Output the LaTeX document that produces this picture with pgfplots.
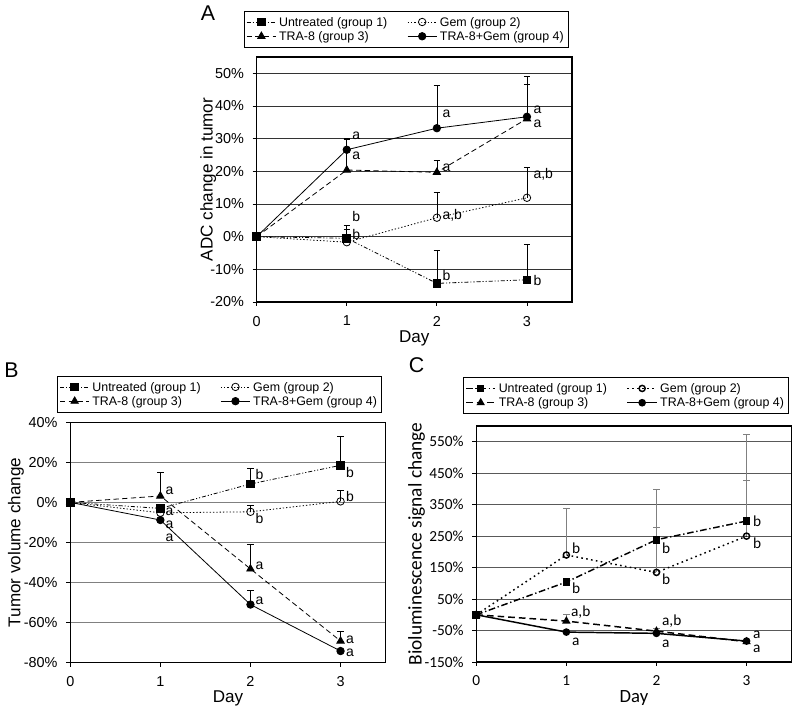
\documentclass[border=0pt]{standalone}
\usepackage{fontspec}
\setmainfont{Liberation Sans}
\newfontfamily\cfont{Carlito}
\usepackage{graphicx}
\usepackage{pgfplots}
\pgfplotsset{compat=1.18}

\newcommand\tickf{\fontsize{10.8}{12}\selectfont}
\newcommand\labf{\fontsize{12.8}{14}\selectfont}
\newcommand\legf{\fontsize{9.3}{11}\selectfont}
\newcommand\LU{\makebox[94pt][l]{\resizebox{81.2pt}{!}{\strut Untreated (group 1)}}}
\newcommand\LG{\resizebox{60.5pt}{!}{\strut Gem (group 2)}}
\newcommand\LT{\resizebox{67.2pt}{!}{\strut TRA-8 (group 3)}}
\newcommand\LTG{\resizebox{92.8pt}{!}{\strut TRA-8+Gem (group 4)}}
\tikzset{ann/.style={font=\fontsize{10.5}{12}\selectfont, anchor=west, inner sep=0pt},
         annc/.style={font=\cfont\fontsize{11.5}{12}\selectfont, anchor=west, inner sep=0pt}}
\pgfplotsset{
 panel/.style={
  scale only axis, width=236.5pt, xmin=0, xmax=3.5, xtick={0,1,2,3},
  /pgf/number format/assume math mode=true,
  tick align=outside, xtick pos=bottom, ytick pos=left, major tick length=3pt,
  ymajorgrids, grid style={black!80, line width=0.6pt},
  axis line style={line width=0.8pt},
  tick style={black, line width=0.6pt},
  xticklabel style={font=\tickf, yshift=-4pt},
  yticklabel style={font=\tickf, xshift=-3pt},
  legend columns=2,
  legend cell align=left,
  legend style={font=\legf, draw=black, anchor=north west, inner sep=1.5pt, row sep=-2.5pt},
  legend image code/.code={\draw[mark repeat=2,mark phase=2] plot coordinates {(0pt,0pt)(11pt,0pt)(22pt,0pt)};},
  xlabel=Day,
  every axis x label/.style={at={(axis description cs:0.5,-0.15)}, anchor=center, font=\labf},
  error bars/error mark options={solid, rotate=90, mark size=2.4pt, line width=0.5pt},
  error bars/error bar style={solid, line width=0.5pt, black},
  clip=false,
 },
 untr/.style={black, line width=0.6pt, dash pattern=on 3pt off 1.5pt on 0.8pt off 1.5pt on 0.8pt off 1.5pt, mark=square*, mark size=2.9pt, mark options={solid}},
 gem/.style={black, line width=0.6pt, dash pattern=on 1pt off 1.5pt, mark=o, mark size=2.8pt, mark options={solid, fill=white}},
 tra/.style={black, line width=0.6pt, dash pattern=on 4pt off 2.5pt, mark=triangle*, mark size=3.2pt, mark options={solid}},
 trag/.style={black, line width=0.6pt, solid, mark=*, mark size=2.8pt},
}

\begin{document}
\begin{tikzpicture}
\path[use as bounding box] (0,0) rectangle (600pt,534pt);

% ---------------- Panel A ----------------
\begin{axis}[panel, at={(192.5pt,307.5pt)}, anchor=south west, height=183.75pt,
  ymin=-20, ymax=55, ytick={-20,-10,0,10,20,30,40,50},
  yticklabels={-20\%,-10\%,0\%,10\%,20\%,30\%,40\%,50\%},
  ylabel={ADC change in tumor},
  every axis y label/.style={at={(axis description cs:-0.154,0.5)}, rotate=90, anchor=center, font=\labf},
  legend style={at={(-0.040,1.188)}},
]
\addplot+[untr, error bars/.cd, y dir=plus, y explicit] table[x=x, y=y, y error=e] {
x y e
0 0 0
1 -0.5 4.0
2 -14.3 10.1
3 -13.2 10.7
};
\addlegendentry{\LU}
\addplot+[gem, error bars/.cd, y dir=plus, y explicit] table[x=x, y=y, y error=e] {
x y e
0 0 0
1 -1.7 3.9
2 5.8 7.9
3 11.9 9.4
};
\addlegendentry{\LG}
\addplot+[tra, error bars/.cd, y dir=plus, y explicit] table[x=x, y=y, y error=e] {
x y e
0 0 0
1 20.4 9.4
2 19.7 3.6
3 36.1 13.1
};
\addlegendentry{\LT}
\addplot+[trag, error bars/.cd, y dir=plus, y explicit] table[x=x, y=y, y error=e] {
x y e
0 0 0
1 26.6 3.6
2 33.2 13.2
3 36.7 9.8
};
\addlegendentry{\LTG}
\node[ann] at (axis cs:1.06,30.8) {a};
\node[ann] at (axis cs:1.06,24.6) {a};
\node[ann] at (axis cs:1.06,6.2) {b};
\node[ann] at (axis cs:1.06,0.6) {b};
\node[ann] at (axis cs:2.06,37.6) {a};
\node[ann] at (axis cs:2.06,21.1) {a};
\node[ann] at (axis cs:2.06,6.5) {a,b};
\node[ann] at (axis cs:2.06,-12.0) {b};
\node[ann] at (axis cs:3.07,38.7) {a};
\node[ann] at (axis cs:3.07,34.6) {a};
\node[ann] at (axis cs:3.07,19.2) {a,b};
\node[ann] at (axis cs:3.07,-13.4) {b};
\node[font=\fontsize{16}{18}\selectfont] at (rel axis cs:-0.154,1.18) {A};
\end{axis}

% ---------------- Panel B ----------------
\begin{axis}[panel, at={(52.7pt,37.0pt)}, anchor=south west, height=180.3pt,
  ymin=-80, ymax=40, ytick={-80,-60,-40,-20,0,20,40},
  yticklabels={-80\%,-60\%,-40\%,-20\%,0\%,20\%,40\%},
  grid style={black!50, line width=0.6pt},
  ylabel={Tumor volume change},
  every axis y label/.style={at={(axis description cs:-0.172,0.5)}, rotate=90, anchor=center, font=\labf},
  legend style={at={(-0.041,1.193)}},
]
\addplot+[untr, error bars/.cd, y dir=plus, y explicit] table[x=x, y=y, y error=e] {
x y e
0 0 0
1 -3.0 0
2 9.2 7.8
3 18.5 14.3
};
\addlegendentry{\LU}
\addplot+[gem, error bars/.cd, y dir=plus, y explicit] table[x=x, y=y, y error=e] {
x y e
0 0 0
1 -5.2 0
2 -4.7 3.2
3 0.5 5.7
};
\addlegendentry{\LG}
\addplot+[tra, error bars/.cd, y dir=plus, y explicit] table[x=x, y=y, y error=e] {
x y e
0 0 0
1 3.2 11.6
2 -33.2 12.2
3 -69.2 5.0
};
\addlegendentry{\LT}
\addplot+[trag, error bars/.cd, y dir=plus, y explicit] table[x=x, y=y, y error=e] {
x y e
0 0 0
1 -8.8 0
2 -51.0 7.3
3 -74.2 0
};
\addlegendentry{\LTG}
\node[ann] at (axis cs:1.055,5.6) {a};
\node[ann] at (axis cs:1.055,-4.9) {a};
\node[ann] at (axis cs:1.055,-11.2) {a};
\node[ann] at (axis cs:1.055,-17.5) {a};
\node[ann] at (axis cs:2.055,13.7) {b};
\node[ann] at (axis cs:2.055,-8.0) {b};
\node[ann] at (axis cs:2.055,-31.7) {a};
\node[ann] at (axis cs:2.055,-49.3) {a};
\node[ann] at (axis cs:3.06,14.8) {b};
\node[ann] at (axis cs:3.06,2.8) {b};
\node[ann] at (axis cs:3.06,-68.8) {a};
\node[ann] at (axis cs:3.06,-75.0) {a};
\node[font=\fontsize{16}{18}\selectfont] at (rel axis cs:-0.186,1.215) {B};
\end{axis}

% ---------------- Panel C ----------------
\begin{axis}[panel, at={(357.2pt,37.5pt)}, anchor=south west, height=177pt,
  ymin=-150, ymax=600, ytick={-150,-50,50,150,250,350,450,550},
  yticklabels={-150\%,-50\%,50\%,150\%,250\%,350\%,450\%,550\%},
  xticklabel style={font=\cfont\fontsize{11.5}{13}\selectfont},
  yticklabel style={font=\cfont\fontsize{11.5}{13}\selectfont},
  grid style={black!65, line width=0.6pt},
  ylabel={Bioluminescence signal change},
  every axis x label/.style={at={(axis description cs:0.5,-0.152)}, anchor=center, font=\cfont\fontsize{14}{16}\selectfont},
  every axis y label/.style={at={(axis description cs:-0.189,0.5)}, rotate=90, anchor=center, font=\cfont\fontsize{14.5}{16}\selectfont},
  legend style={at={(-0.042,1.206)}},
  error bars/error bar style={solid, line width=0.6pt, black!50},
  error bars/error mark options={solid, rotate=90, mark size=2.4pt, line width=0.6pt, black!50},
]
\addplot+[untr, line width=1.1pt, dash pattern=on 5pt off 2pt on 1pt off 2pt, mark size=2.3pt, error bars/.cd, y dir=plus, y explicit] table[x=x, y=y, y error=e] {
x y e
0 0 0
1 104 0
2 238.6 161
3 298 274
};
\addlegendentry{\LU}
\addplot+[gem, line width=1.1pt, dash pattern=on 1.2pt off 2.5pt, mark size=2.3pt, error bars/.cd, y dir=plus, y explicit] table[x=x, y=y, y error=e] {
x y e
0 0 0
1 190 147
2 134.7 143
3 250 176
};
\addlegendentry{\LG}
\addplot+[tra, line width=1.1pt, dash pattern=on 5pt off 3pt, mark size=2.6pt, error bars/.cd, y dir=plus, y explicit] table[x=x, y=y, y error=e] {
x y e
0 0 0
1 -20 21
2 -52 9
3 -85.6 0
};
\addlegendentry{\LT}
\addplot+[trag, line width=1.1pt, mark size=2.3pt, error bars/.cd, y dir=plus, y explicit] table[x=x, y=y, y error=e] {
x y e
0 0 0
1 -55 0
2 -59 0
3 -83.5 0
};
\addlegendentry{\LTG}
\node[annc] at (axis cs:1.06,211) {b};
\node[annc] at (axis cs:1.06,83.9) {b};
\node[annc] at (axis cs:1.05,9.7) {a,b};
\node[annc] at (axis cs:1.06,-85.6) {a};
\node[annc] at (axis cs:2.06,211) {b};
\node[annc] at (axis cs:2.06,112.5) {b};
\node[annc] at (axis cs:2.06,-20) {a,b};
\node[annc] at (axis cs:2.06,-91) {a};
\node[annc] at (axis cs:3.07,298) {b};
\node[annc] at (axis cs:3.07,229) {b};
\node[annc] at (axis cs:3.07,-65) {a};
\node[annc] at (axis cs:3.07,-108) {a};
\node[font=\fontsize{16}{18}\selectfont] at (rel axis cs:-0.189,1.258) {C};
\end{axis}
\end{tikzpicture}
\end{document}
